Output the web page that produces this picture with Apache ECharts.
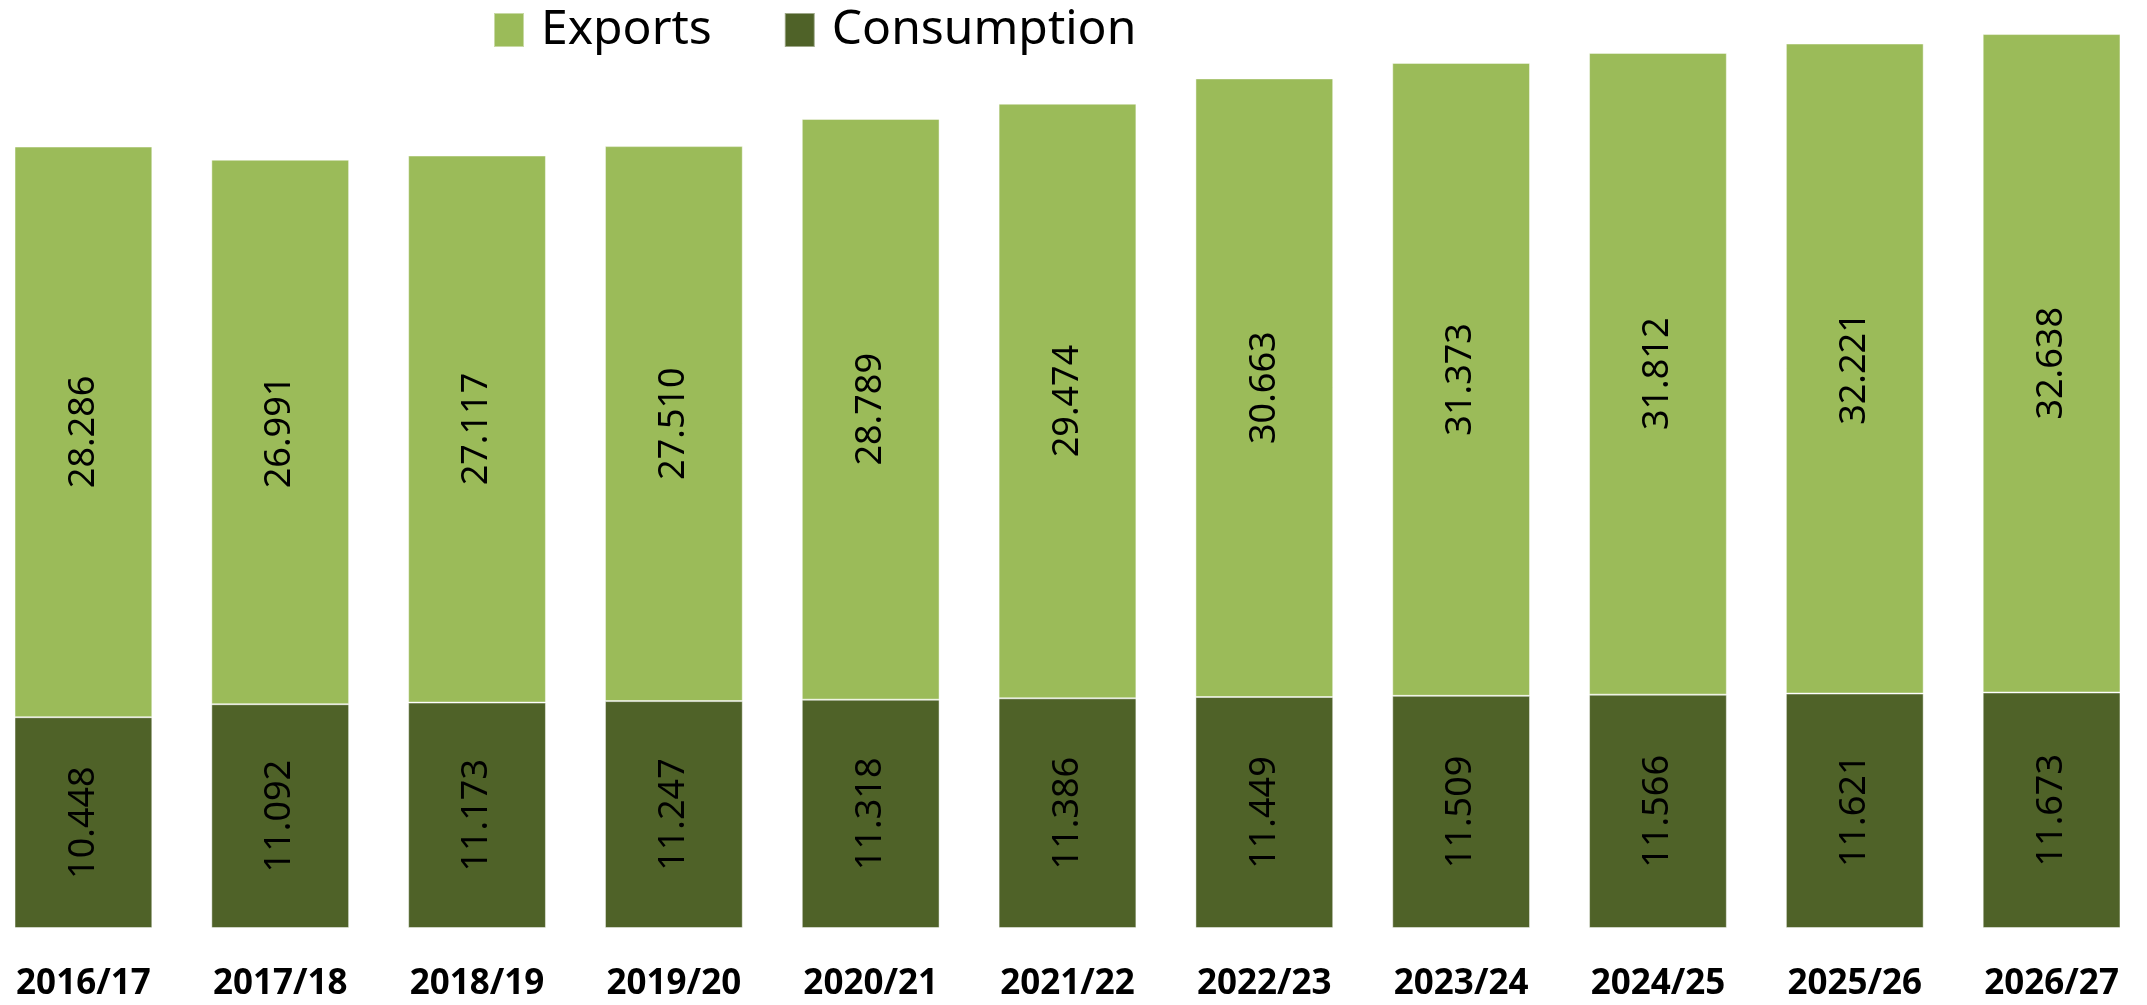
<!DOCTYPE html>
<html>
<head>
<meta charset="utf-8">
<script src="https://cdn.jsdelivr.net/npm/echarts@6/dist/echarts.min.js"></script>
<style>
  html, body { margin: 0; padding: 0; background: #fff; }
  #chart { width: 2147px; height: 1005px; }
</style>
</head>
<body>
<div id="chart"></div>
<script>
const years = ['2016/17', '2017/18', '2018/19', '2019/20', '2020/21', '2021/22',
  '2022/23', '2023/24', '2024/25', '2025/26', '2026/27']
const consumption = [10.448, 11.092, 11.173, 11.247, 11.318, 11.386,
  11.449, 11.509, 11.566, 11.621, 11.673]
const exportsData = [28.286, 26.991, 27.117, 27.510, 28.789, 29.474,
  30.663, 31.373, 31.812, 32.221, 32.638]

const font = 'Noto Sans'
const colorExports = '#9BBB59'
const colorConsumption = '#4F6228'

const chart = echarts.init(document.getElementById('chart'))

const valueLabel = {
  show: true,
  position: 'inside',
  rotate: 90,
  fontFamily: font,
  fontSize: 36,
  color: '#000',
  formatter: p => p.value.toFixed(3)
}

chart.setOption({
  animation: false,
  legend: {
    data: ['Exports', 'Consumption'],
    left: 488,
    top: 1,
    itemWidth: 30,
    itemHeight: 34,
    itemGap: 72,
    icon: 'rect',
    textStyle: {
      fontFamily: font,
      fontSize: 48,
      color: '#000',
      padding: [0, 0, 0, 12]
    }
  },
  grid: {
    left: -15,
    width: 2165,
    top: 0,
    bottom: 77,
    outerBoundsMode: 'none',
    containLabel: false
  },
  xAxis: {
    type: 'category',
    data: years,
    axisLine: { show: false },
    axisTick: { show: false },
    axisLabel: {
      margin: 39,
      fontFamily: font,
      fontWeight: 'bold',
      fontSize: 35,
      color: '#000'
    }
  },
  yAxis: {
    type: 'value',
    min: 0,
    max: 46,
    show: false,
    splitLine: { show: false }
  },
  series: [
    {
      name: 'Consumption',
      type: 'bar',
      stack: 'total',
      barCategoryGap: '30%',
      data: consumption,
      itemStyle: {
        color: colorConsumption,
        borderColor: 'rgba(255,255,255,0.45)',
        borderWidth: 1
      },
      label: valueLabel
    },
    {
      name: 'Exports',
      type: 'bar',
      stack: 'total',
      barCategoryGap: '30%',
      data: exportsData,
      itemStyle: {
        color: colorExports,
        borderColor: 'rgba(255,255,255,0.45)',
        borderWidth: 1
      },
      label: valueLabel
    }
  ]
})
</script>
</body>
</html>
